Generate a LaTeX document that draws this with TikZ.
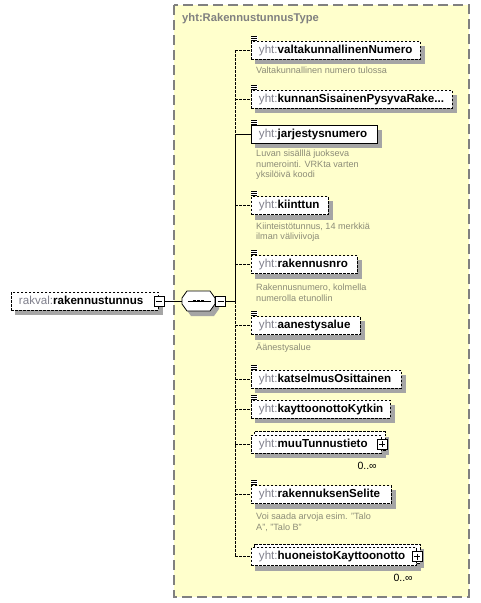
\documentclass[tikz,border=0pt]{standalone}
\usepackage{fontspec}
\setmainfont{Liberation Sans}
\usetikzlibrary{positioning,backgrounds,calc}

\definecolor{typefill}{RGB}{255,255,204}
\definecolor{typeline}{RGB}{128,128,128}
\definecolor{shadowgrey}{RGB}{165,165,165}
\definecolor{pfx}{RGB}{128,128,140}
\definecolor{desctext}{RGB}{140,140,120}

\newcommand{\qname}[2]{\mbox{\textcolor{pfx}{#1:}\textbf{#2}}}
\newcommand{\trail}{...}

\begin{document}
\begin{tikzpicture}[x=1pt, y=-1pt,
    elem/.style={draw, fill=white, line width=0.9pt, dash pattern=on 2.5pt off 1.5pt,
                 minimum height=18pt, inner xsep=7.5pt, inner ysep=0pt,
                 text height=8.5pt, text depth=2.5pt, align=left, anchor=west,
                 font=\fontsize{11.6}{13}\selectfont},
    pm/.style={draw, solid, fill=white, line width=0.6pt, minimum size=10pt, inner sep=0pt},
    minus/.style={pm, path picture={\draw[line width=0.6pt]
                 ([xshift=2pt]path picture bounding box.west) -- ([xshift=-2pt]path picture bounding box.east);}},
    plus/.style={pm, path picture={\draw[line width=0.6pt]
                 ([xshift=2pt]path picture bounding box.west) -- ([xshift=-2pt]path picture bounding box.east)
                 ([yshift=-2pt]path picture bounding box.north) -- ([yshift=2pt]path picture bounding box.south);}},
    link/.style={line width=0.8pt},
    opt/.style={line width=0.8pt, dash pattern=on 2.5pt off 1.5pt},
    desc/.style={font=\fontsize{9.1}{10.5}\selectfont, text=desctext, anchor=north west,
                 inner sep=0pt, align=left},
    mult/.style={font=\fontsize{10.5}{12}\selectfont, inner sep=0pt, anchor=east}
  ]
  \useasboundingbox (0,0) rectangle (480,603);
  % -- complex type --
  \begin{pgfonlayer}{background}
    \draw[fill=typefill, draw=typeline, line width=1.2pt, dash pattern=on 10pt off 5pt]
      (174,5) rectangle (469,597);
  \end{pgfonlayer}
  \node[anchor=west, inner sep=0pt, text=typeline, font=\fontsize{11.2}{13}\selectfont\bfseries]
    (title) at (182,19) {yht:RakennustunnusType};
  % -- root element and sequence --
  \node[elem, text width=132pt] (root) at (11,301) {\qname{rakval}{rakennustunnus}};
  \node[minus] (rootpm) at (root.east) {};
  \fill[shadowgrey, shift={(4,5)}] (187,291) -- (210,291) -- (215,298) -- (215,304)
    -- (210,311) -- (187,311) -- (182,304) -- (182,298) -- cycle;
  \draw[link, fill=white] (187,291) -- (210,291) -- (215,298) -- (215,304)
    -- (210,311) -- (187,311) -- (182,304) -- (182,298) -- cycle;
  \node[minimum width=33pt, minimum height=20pt, inner sep=0pt] (seq) at (198.5,301) {};
  \node[minus, anchor=west] (seqpm) at (seq.east) {};
  \coordinate (join) at (235,301);
  \draw[link] ([xshift=6pt]seq.west) -- ([xshift=-4pt]seq.east);
  \foreach \dx in {-4,0,4}{ \fill ($(seq.center)+(\dx-1.4,-1.4)$) rectangle +(2.8,2.8); }
  \draw[link] (rootpm) -- (seq);
  \draw[link] (seqpm) -- (join);
  % -- children --
  \foreach \i/\y/\w/\nm in {1/50/169/valtakunnallinenNumero,
                            2/99/201/kunnanSisainenPysyvaRake\trail,
                            4/205.5/77/kiinttun, 5/264.5/106/rakennusnro,
                            6/325.5/109/aanestysalue, 7/379/150/katselmusOsittainen,
                            8/409/139/kayttoonottoKytkin, 10/494.5/140/rakennuksenSelite}{
    \pgfmathsetmacro\tw{\w-15}
    \coordinate (s\i) at (235,\y);
    \node[elem, text width=\tw pt] (e\i) at (251,\y) {\qname{yht}{\nm}};
    \draw[opt] (s\i) -- (e\i);
  }
  \coordinate (s3) at (235,134);
  \node[elem, solid, text width=111pt] (e3) at (251,134) {\qname{yht}{jarjestysnumero}};
  \draw[link] (s3) -- (e3);
  \coordinate (s9) at (235,444);
  \node[elem, text width=115pt] (e9) at (251,444) {\qname{yht}{muuTunnustieto}};
  \node[plus] (e9pm) at (e9.east) {};
  \node[mult] (m9) at ([xshift=-5pt, yshift=-12pt]e9.south east) {0..∞};
  \draw[opt] (s9) -- (e9);
  \coordinate (s11) at (235,556.5);
  \node[elem, text width=150pt] (e11) at (251,556.5) {\qname{yht}{huoneistoKayttoonotto}};
  \node[plus] (e11pm) at (e11.east) {};
  \node[mult] (m11) at ([xshift=-4pt, yshift=-12pt]e11.south east) {0..∞};
  \draw[opt] (s11) -- (e11);
  % spine
  \draw[opt] (s1) -- (s3);
  \draw[link] (s3) -- (join);
  \draw[opt] (join) -- (s11);
  % documentation icons
  \foreach \i in {1,...,8,10}{
    \fill[white] (e\i.north west) rectangle ++(7,-5);
    \foreach \k in {0.4,2.4,4.4}{ \draw[line width=0.6pt] ([yshift=\k pt]e\i.north west) -- ++(6,0); }
  }
  % shadows and stacked copies
  \begin{pgfonlayer}{background}
    \foreach \n in {e9,e11}{
      \fill[shadowgrey] ([xshift=7pt,yshift=-2pt]\n.south west) rectangle ([xshift=7pt,yshift=-2pt]\n.north east);
    }
    \foreach \n in {root,e1,e2,e3,e4,e5,e6,e7,e8,e9,e10,e11}{
      \fill[shadowgrey] ([xshift=4pt,yshift=-5pt]\n.south west) rectangle ([xshift=4pt,yshift=-5pt]\n.north east);
    }
    \foreach \n in {e9,e11}{
      \draw[opt, fill=white] ([xshift=3pt,yshift=3pt]\n.south west) rectangle ([xshift=3pt,yshift=3pt]\n.north east);
    }
  \end{pgfonlayer}
  % -- annotations --
  \node[desc] (d1) at (256,64.5) {\rule{0pt}{9pt}Valtakunnallinen numero tulossa};
  \node[desc] (d3) at (256,147.5) {\rule{0pt}{9pt}Luvan sisälllä juokseva\\numerointi. VRKta varten\\yksilöivä koodi};
  \node[desc] (d4) at (256,220) {\rule{0pt}{9pt}Kiinteistötunnus, 14 merkkiä\\ilman väliviivoja};
  \node[desc] (d5) at (256,281.5) {\rule{0pt}{9pt}Rakennusnumero, kolmella\\numerolla etunollin};
  \node[desc] (d6) at (256,341.5) {\rule{0pt}{9pt}Äänestysalue};
  \node[desc] (d10) at (256,510.5) {\rule{0pt}{9pt}Voi saada arvoja esim. "Talo\\A", "Talo B"};
\end{tikzpicture}
\end{document}
